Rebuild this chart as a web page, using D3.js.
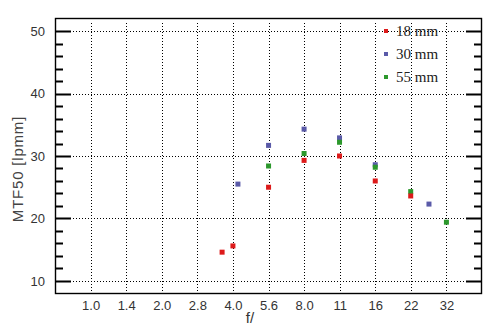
<!DOCTYPE html>
<html>
<head>
<meta charset="utf-8">
<script src="https://cdn.jsdelivr.net/npm/d3@7"></script>
<style>
  body { margin: 0; background: #fff; }
  text { font-family: "Liberation Sans", Arial, sans-serif; }
</style>
</head>
<body>
<div id="chart"></div>
<script>
// tick labels along the aperture axis (one per stop)
var stopLabels = ["1.0", "1.4", "2.0", "2.8", "4.0", "5.6", "8.0", "11", "16", "22", "32"];
var yTicks = [10, 20, 30, 40, 50];

// measured apertures (true f-numbers) and MTF50 values
var f18 = [3.6, 4.0, 5.66, 8.0, 11.3, 16, 22.6];
var mtf18 = [14.6, 15.6, 25.0, 29.3, 30.0, 26.0, 23.6];
var f30 = [4.2, 5.66, 8.0, 11.3, 16, 27];
var mtf30 = [25.5, 31.7, 34.3, 32.9, 28.6, 22.3];
var f55 = [5.66, 8.0, 11.3, 16, 22.6, 32];
var mtf55 = [28.4, 30.4, 32.2, 28.2, 24.3, 19.4];

var seriesNames = ["18 mm", "30 mm", "55 mm"];
var colors = ["#dd1a1a", "#5a5aa8", "#2c982c"];

var W = 494, H = 331;
var pLeft = 55, pTop = 18, pRight = 482, pBottom = 294;

var svg = d3.select("#chart").append("svg").attr("width", W).attr("height", H);

// x in stops: 1.0 -> 0, 1.4 -> 1 ...
var x = d3.scaleLog().base(2).domain([Math.pow(2, -0.5), Math.pow(2, 5.5)]).range([pLeft, pRight]);
var y = d3.scaleLinear().domain([7.9, 52.1]).range([pBottom, pTop]);

var stopVals = stopLabels.map(function (d, i) { return Math.pow(Math.SQRT2, i); });
var minor = d3.range(10, 52, 2).filter(function (d) { return d % 10 !== 0; });

function py(d) { return Math.round(y(d)) + 0.5; }
function px(d) { return Math.round(x(d)) + 0.5; }

// dotted grid
svg.append("g").selectAll("line").data(yTicks).join("line")
    .attr("x1", pLeft).attr("x2", pRight)
    .attr("y1", py).attr("y2", py)
    .attr("stroke", "#000").attr("stroke-dasharray", "1,2");

svg.append("g").selectAll("line").data(stopVals).join("line")
    .attr("x1", px).attr("x2", px)
    .attr("y1", pTop + 5).attr("y2", pBottom)
    .attr("stroke", "#000").attr("stroke-dasharray", "1,2");

// left tick labels
var gl = svg.append("g").attr("transform", "translate(" + pLeft + ",0)")
    .call(d3.axisLeft(y).tickValues(yTicks).tickSize(0).tickPadding(10));
gl.select(".domain").remove();
gl.selectAll("text").attr("fill", "#333").style("font-size", "13px");

// bottom labels, no tick marks
var gx = svg.append("g").attr("transform", "translate(0," + pBottom + ")")
    .call(d3.axisBottom(x).tickValues(stopVals).tickSize(0).tickPadding(7)
        .tickFormat(function (d, i) { return stopLabels[i]; }));
gx.select(".domain").remove();
gx.selectAll("text").attr("fill", "#333").style("font-size", "13px");

// frame
svg.append("rect").attr("x", pLeft + 0.5).attr("y", pTop + 0.5)
    .attr("width", pRight - pLeft - 1).attr("height", pBottom - pTop - 1)
    .attr("fill", "none").attr("stroke", "#000").attr("stroke-width", 1.4);

// axis titles
svg.append("text").attr("x", 250).attr("y", 323).attr("text-anchor", "middle")
    .attr("fill", "#333").style("font-size", "15px").text("f/");
svg.append("text").attr("transform", "translate(23,169) rotate(-90)")
    .attr("text-anchor", "middle").attr("fill", "#444").style("font-size", "15px")
    .style("letter-spacing", "0.8px").text("MTF50 [lpmm]");

// points: blue first, then green, red on top
var series = [
    {f: f30, v: mtf30, c: colors[1]},
    {f: f55, v: mtf55, c: colors[2]},
    {f: f18, v: mtf18, c: colors[0]}
];
series.forEach(function (s) {
    svg.append("g").selectAll("rect").data(s.f).join("rect")
        .attr("x", function (d) { return x(d) - 2.5; })
        .attr("y", function (d, i) { return y(s.v[i]) - 2.5; })
        .attr("width", 5).attr("height", 5)
        .attr("fill", s.c);
});

// legend
var lg = svg.append("g").selectAll("g").data(seriesNames).join("g")
    .attr("transform", function (d, i) { return "translate(386," + (31 + i * 23) + ")"; });
lg.append("rect").attr("x", -2).attr("y", -2).attr("width", 4).attr("height", 4)
    .attr("fill", function (d, i) { return colors[i]; });
lg.append("text").attr("x", 10).attr("y", 5)
    .style("font-family", "'Liberation Serif', 'Times New Roman', serif")
    .style("font-size", "15px").attr("fill", "#222")
    .text(function (d) { return d; });

// tick marks on both sides as thin filled bars, major longer than minor
var tickData = yTicks.map(function (d) { return {v: d, len: 16}; })
    .concat(minor.map(function (d) { return {v: d, len: 8}; }));
[pLeft, pRight].forEach(function (edge) {
    svg.append("g").selectAll("rect").data(tickData).join("rect")
        .attr("x", function (d) { return edge === pLeft ? edge : edge - d.len; })
        .attr("y", function (d) { return Math.round(y(d.v)) - 0.5; })
        .attr("width", function (d) { return d.len; })
        .attr("height", 2)
        .attr("fill", "#000");
});
</script>
</body>
</html>
